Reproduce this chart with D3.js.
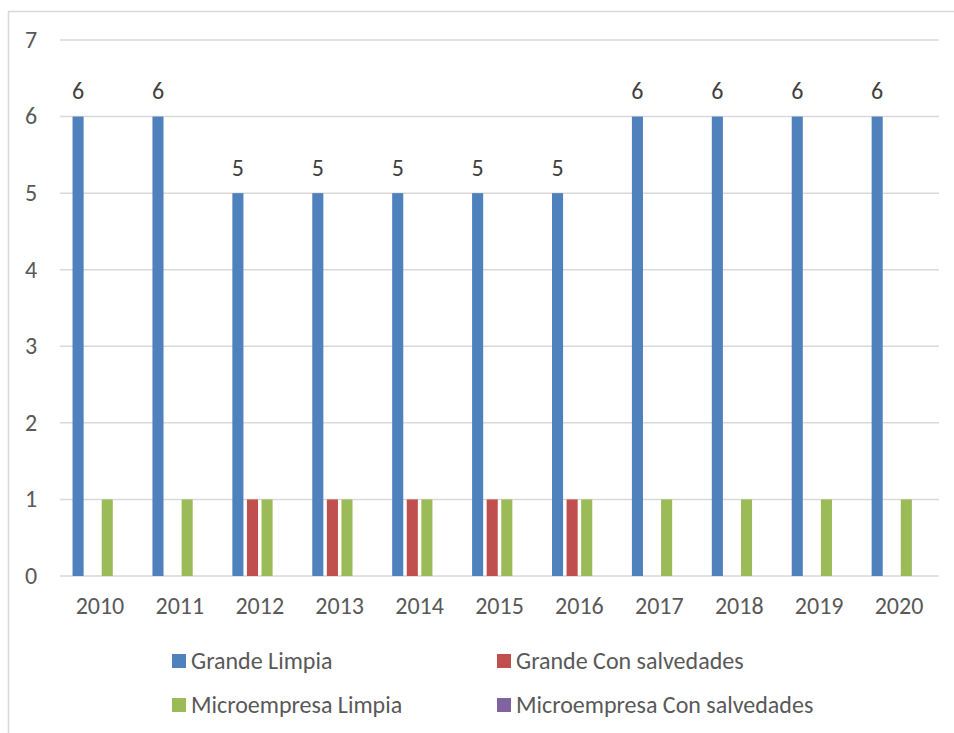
<!DOCTYPE html>
<html>
    <head>
        <meta charset="UTF-8">
        <script src="https://d3js.org/d3.v7.min.js"></script>
        <style>
            body {
                margin: 0;
                background: white;
                font-family: Carlito, Lato, sans-serif;
            }

            .grid line {
                stroke: #d9d9d9;
                stroke-width: 1.5px;
            }

            .tick-label, .value-label, .legend-label {
                fill: #595959;
                font-size: 24px;
            }

            .value-label {
                fill: #404040;
            }
        </style>
    </head>
    <body>
        <svg></svg>

        <script>
            const years = ["2010", "2011", "2012", "2013", "2014", "2015", "2016", "2017", "2018", "2019", "2020"];
            const seriesNames = ["Grande Limpia", "Grande Con salvedades", "Microempresa Limpia", "Microempresa Con salvedades"];
            const seriesColors = ["#4f81bd", "#c0504d", "#9bbb59", "#8064a2"];

            const grandeLimpia = [6, 6, 5, 5, 5, 5, 5, 6, 6, 6, 6];
            const grandeSalvedades = [0, 0, 1, 1, 1, 1, 1, 0, 0, 0, 0];
            const microLimpia = [1, 1, 1, 1, 1, 1, 1, 1, 1, 1, 1];
            const microSalvedades = [0, 0, 0, 0, 0, 0, 0, 0, 0, 0, 0];

            const yTicks = [0, 1, 2, 3, 4, 5, 6, 7];

            function drawGraph () {
                const width = 954,
                    height = 733;

                const seriesValues = [grandeLimpia, grandeSalvedades, microLimpia, microSalvedades];

                const svg = d3.select("svg")
                    .attr("width", width)
                    .attr("height", height);

                // chart frame (cropped on the right and bottom)
                svg.append("path")
                    .attr("d", "M8.5," + height + "V11.5H" + width)
                    .attr("fill", "none")
                    .attr("stroke", "#d9d9d9")
                    .attr("stroke-width", 1.5);

                const x0 = d3.scaleBand()
                    .domain(years)
                    .range([60, 939])
                    .paddingInner(0.27)
                    .paddingOuter(0.135);

                const x1 = d3.scaleBand()
                    .domain(d3.range(seriesNames.length))
                    .range([0, x0.bandwidth()])
                    .paddingInner(0.24)
                    .paddingOuter(0.12);

                const y = d3.scaleLinear()
                    .domain([0, 7])
                    .range([576, 40]);

                // gridlines
                const grid = svg.append("g").attr("class", "grid");
                grid.selectAll("line")
                    .data(yTicks)
                    .join("line")
                        .attr("x1", 60)
                        .attr("x2", 939)
                        .attr("y1", d => y(d))
                        .attr("y2", d => y(d));

                // y tick labels
                svg.append("g")
                    .selectAll("text")
                    .data(yTicks)
                    .join("text")
                        .attr("class", "tick-label")
                        .attr("x", 31)
                        .attr("y", d => y(d))
                        .attr("dy", "0.33em")
                        .attr("text-anchor", "middle")
                        .text(d => d);

                // x tick labels
                svg.append("g")
                    .selectAll("text")
                    .data(years)
                    .join("text")
                        .attr("class", "tick-label")
                        .attr("x", d => x0(d) + x0.bandwidth() / 2)
                        .attr("y", 606)
                        .attr("dy", "0.33em")
                        .attr("text-anchor", "middle")
                        .text(d => d);

                // bars
                const groups = svg.append("g")
                    .selectAll("g")
                    .data(years)
                    .join("g")
                        .attr("transform", d => `translate(${x0(d)},0)`);

                groups.selectAll("rect")
                    .data((d, i) => seriesValues.map((s, k) => ({ k: k, v: s[i] })))
                    .join("rect")
                        .attr("x", d => x1(d.k))
                        .attr("width", x1.bandwidth())
                        .attr("y", d => y(d.v))
                        .attr("height", d => y(0) - y(d.v))
                        .attr("fill", d => seriesColors[d.k]);

                // labels on Grande Limpia only
                svg.append("g")
                    .selectAll("text")
                    .data(years)
                    .join("text")
                        .attr("class", "value-label")
                        .attr("x", (d, i) => x0(d) + x1(0) + x1.bandwidth() / 2)
                        .attr("y", (d, i) => y(grandeLimpia[i]) - 25)
                        .attr("dy", "0.33em")
                        .attr("text-anchor", "middle")
                        .text((d, i) => grandeLimpia[i]);

                // legend
                const legendPos = [[172, 661], [497, 661], [172, 705], [497, 705]];
                const legend = svg.append("g")
                    .selectAll("g")
                    .data(seriesNames)
                    .join("g")
                        .attr("transform", (d, i) => `translate(${legendPos[i][0]},${legendPos[i][1]})`);

                legend.append("rect")
                    .attr("x", 0)
                    .attr("y", -7)
                    .attr("width", 14)
                    .attr("height", 14)
                    .attr("fill", (d, i) => seriesColors[i]);

                legend.append("text")
                    .attr("class", "legend-label")
                    .attr("x", 19)
                    .attr("dy", "0.33em")
                    .text(d => d);
            }

            drawGraph();
        </script>
    </body>
</html>
